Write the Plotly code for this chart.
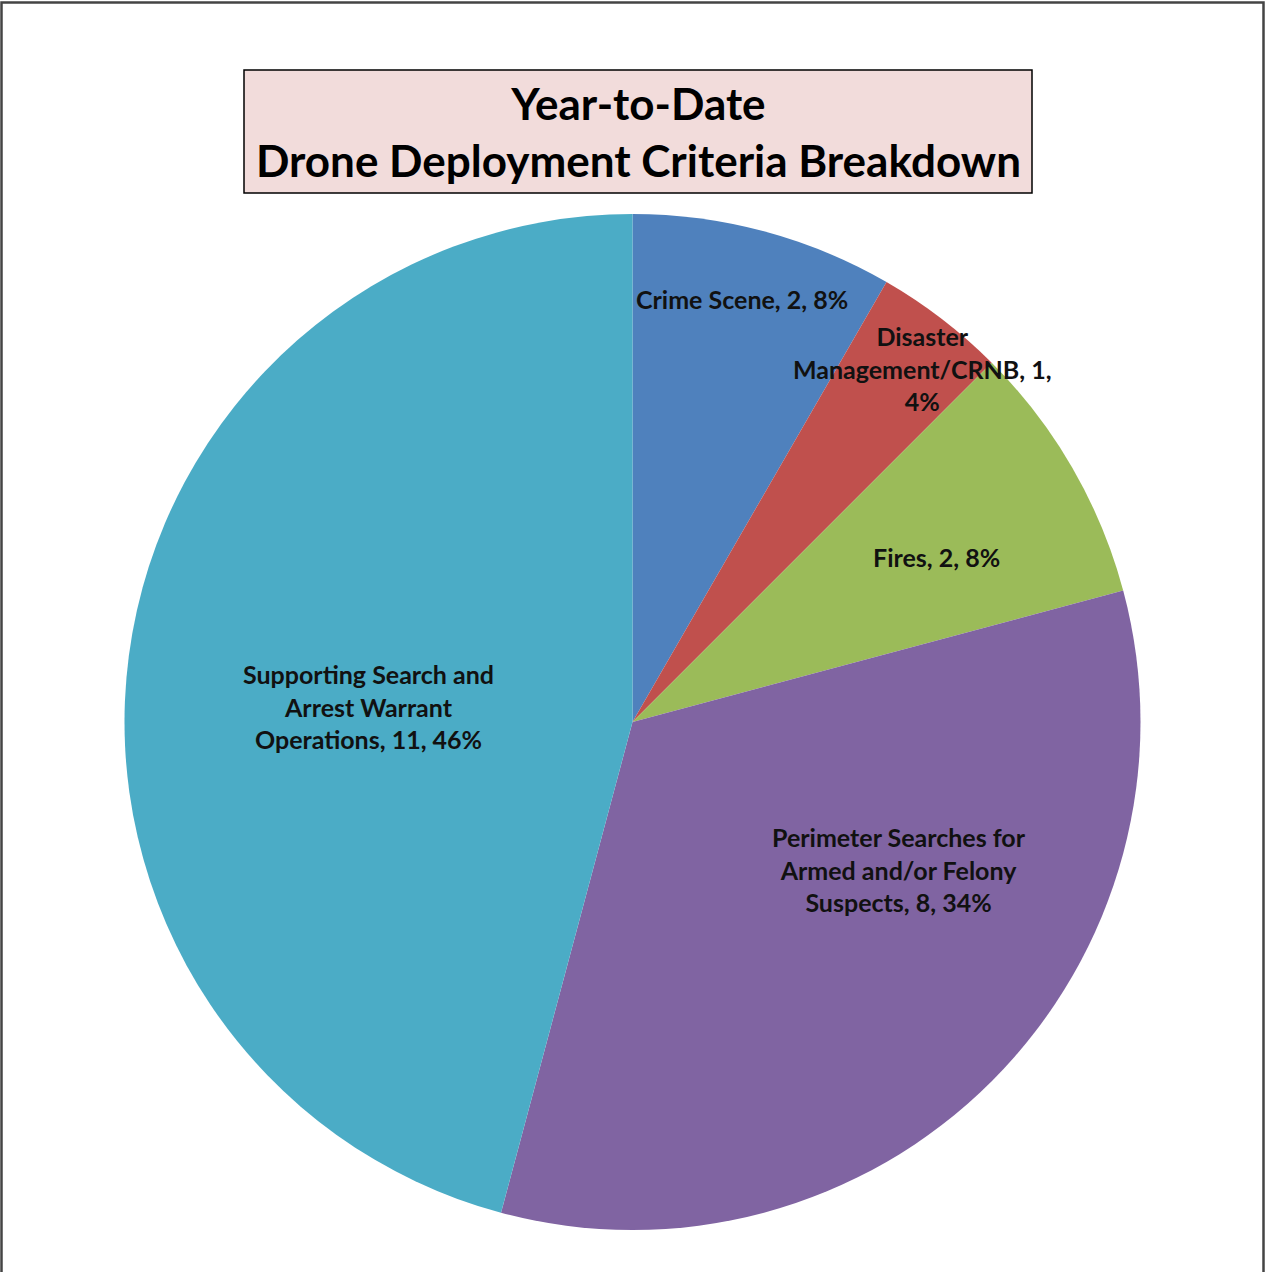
import math
import plotly.graph_objects as go

W, H = 1265, 1272

categories = ["Crime Scene", "Disaster Management/CRNB", "Fires",
              "Perimeter Searches for Armed and/or Felony Suspects",
              "Supporting Search and Arrest Warrant Operations"]
values = [2, 1, 2, 8, 11]
pct_labels = ["8%", "4%", "8%", "34%", "46%"]
label_text = ["Crime Scene, 2, 8%",
              "Disaster<br>Management/CRNB, 1,<br>4%",
              "Fires, 2, 8%",
              "Perimeter Searches for<br>Armed and/or Felony<br>Suspects, 8, 34%",
              "Supporting Search and<br>Arrest Warrant<br>Operations, 11, 46%"]
colors = ["#4F81BD", "#C0504D", "#9BBB59", "#8064A2", "#4BACC6"]

# label placement style: angular nudge (deg) and radial fraction
label_dang = [-0.5, 1.8, 1.5, -16, -4.2]
label_rfrac = [0.86, 0.90, 0.68, 0.60, 0.52]

# pie geometry (pixels)
left, right, top, bottom = 124, 1141, 214, 1230
cx_px = (left + right) / 2
cy_px = (top + bottom) / 2
rad = (bottom - top) / 2

fig = go.Figure()
fig.add_trace(go.Pie(
    labels=categories, values=values, sort=False, direction="clockwise",
    rotation=0, marker=dict(colors=colors, line=dict(width=0)),
    textinfo="none", hoverinfo="label+value+percent", showlegend=False,
    domain=dict(x=[left / W, right / W], y=[1 - bottom / H, 1 - top / H]),
))

total = sum(values)
cum = 0
annotations = []
for i, v in enumerate(values):
    mid = (cum + v / 2) / total * 360 + label_dang[i]
    cum += v
    r = rad * label_rfrac[i]
    px = cx_px + r * math.sin(math.radians(mid))
    py = cy_px - r * math.cos(math.radians(mid))
    annotations.append(dict(
        x=px / W, y=1 - py / H, xref="paper", yref="paper",
        text=label_text[i], showarrow=False, align="center",
        xanchor="center", yanchor="middle",
        font=dict(family="Lato", size=25, color="#111111", weight="bold"),
    ))

annotations.append(dict(
    x=638 / W, y=1 - 131 / H, xref="paper", yref="paper",
    text="Year-to-Date<br>Drone Deployment Criteria Breakdown",
    showarrow=False, align="center", xanchor="center", yanchor="middle",
    font=dict(family="Lato", size=44, color="#000000", weight="bold"),
))

shapes = [
    dict(type="rect", xref="paper", yref="paper",
         x0=1.5 / W, x1=1263.5 / W, y0=-0.05, y1=1 - 2.5 / H,
         line=dict(color="#444444", width=2.5), fillcolor="rgba(0,0,0,0)"),
    dict(type="rect", xref="paper", yref="paper",
         x0=244 / W, x1=1032 / W, y0=1 - 193 / H, y1=1 - 70 / H,
         line=dict(color="#000000", width=1.5), fillcolor="#F2DCDB"),
]

fig.update_layout(
    width=W, height=H, margin=dict(l=0, r=0, t=0, b=0),
    paper_bgcolor="white", plot_bgcolor="white",
    annotations=annotations, shapes=shapes,
)

fig.write_html("out.html", config={"displayModeBar": False},
               post_script="document.body.style.margin='0px';document.body.style.overflow='hidden';")
